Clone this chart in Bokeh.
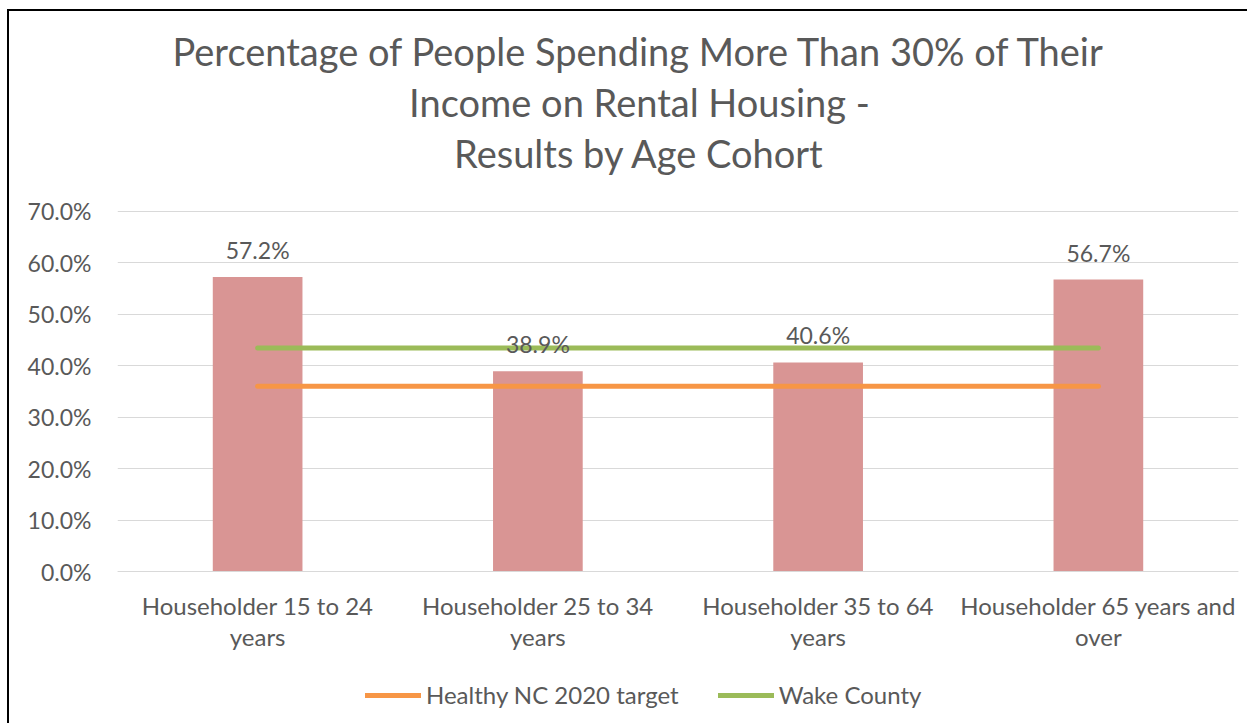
from bokeh.plotting import figure
from bokeh.models import Label, Legend, LegendItem, FixedTicker, Range1d, ColumnDataSource
from bokeh.core.properties import value
from bokeh.embed import file_html
from bokeh.resources import INLINE

# ---- data ----
categories = [
    "Householder 15 to 24\nyears",
    "Householder 25 to 34\nyears",
    "Householder 35 to 64\nyears",
    "Householder 65 years and\nover",
]
rent_burden = [57.2, 38.9, 40.6, 56.7]
rent_labels = ["57.2%", "38.9%", "40.6%", "56.7%"]
healthy_nc_target = [36.0, 36.0]
wake_county = [43.4, 43.4]
y_ticks = [0, 10, 20, 30, 40, 50, 60, 70]
y_tick_labels = ["0.0%", "10.0%", "20.0%", "30.0%", "40.0%", "50.0%", "60.0%", "70.0%"]
title_lines = [
    "Percentage of People Spending More Than 30% of Their",
    "Income on Rental Housing -",
    "Results by Age Cohort",
]
legend_names = ["Healthy NC 2020 target", "Wake County"]

FONT = "Lato"
TXT = "#595959"

W, H = 1240, 714
p = figure(
    width=W, height=H, x_range=categories, y_range=Range1d(-29.3, 107.0),
    output_backend="svg", toolbar_location=None,
    min_border_left=108, min_border_right=11, min_border_top=9, min_border_bottom=3,
)
p.styles = {"margin-left": "7px", "margin-top": "9px",
            "border-left": "2px solid black", "border-top": "2px solid black"}
p.outline_line_color = None
p.background_fill_color = "white"
p.border_fill_color = "white"

src = ColumnDataSource(dict(x=categories, top=rent_burden, lab=rent_labels))
p.vbar(x="x", top="top", width=0.32, source=src, fill_color="#D99594", line_color=None)

line_x = [categories[0], categories[-1]]
r_t = p.line(x=line_x, y=healthy_nc_target, line_color="#F79646", line_width=5, line_cap="round")
r_w = p.line(x=line_x, y=wake_county, line_color="#9BBB59", line_width=5, line_cap="round")

p.text(x="x", y="top", text="lab", source=src, text_align="center", text_baseline="alphabetic",
       y_offset=-27, text_font=value(FONT), text_font_size="23px", text_color=TXT)

# axes
p.yaxis.ticker = FixedTicker(ticks=y_ticks)
p.yaxis.major_label_overrides = {t: l for t, l in zip(y_ticks, y_tick_labels)}
p.yaxis.axis_line_color = None
p.yaxis.major_tick_line_color = None
p.yaxis.minor_tick_line_color = None
p.yaxis.major_label_standoff = 20
p.yaxis.major_label_text_font = FONT
p.yaxis.major_label_text_font_size = "23px"
p.yaxis.major_label_text_color = TXT

p.xaxis.fixed_location = 0
p.xaxis.axis_line_color = "#D9D9D9"
p.xaxis.major_tick_line_color = None
p.xaxis.minor_tick_line_color = None
p.xaxis.major_label_standoff = 13
p.xaxis.major_label_text_font = FONT
p.xaxis.major_label_text_font_size = "24px"
p.xaxis.major_label_text_color = TXT
p.xaxis.major_label_text_line_height = 1.08

p.xgrid.grid_line_color = None
p.ygrid.grid_line_color = "#D9D9D9"
p.ygrid.grid_line_width = 1

# title lines (screen units, relative to the frame's bottom-left)
for i, t in enumerate(title_lines):
    p.add_layout(Label(x=522, y=672 - 51 * i, x_units="screen", y_units="screen", text=t,
                       text_align="center", text_baseline="middle", text_font=FONT,
                       text_font_size="38px", text_color=TXT))

legend = Legend(items=[LegendItem(label=legend_names[0], renderers=[r_t]),
                       LegendItem(label=legend_names[1], renderers=[r_w])],
                orientation="horizontal", location=(248, 13), padding=0, margin=0,
                spacing=39, glyph_width=56, glyph_height=24, label_height=24,
                label_standoff=5, border_line_color=None, background_fill_alpha=0,
                label_text_font=FONT, label_text_font_size="24px", label_text_color=TXT)
p.add_layout(legend, "center")

open("out.html", "w").write(file_html(p, INLINE))
